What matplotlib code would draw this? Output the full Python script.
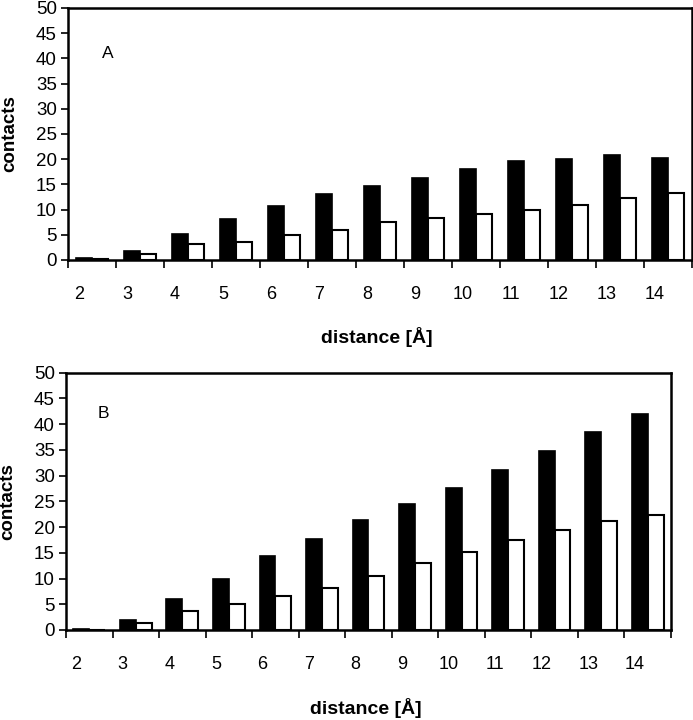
import matplotlib
matplotlib.use("Agg")
import matplotlib.pyplot as plt
import matplotlib.transforms as mtransforms
import numpy as np

plt.rcParams["font.family"] = ["Liberation Sans", "DejaVu Sans"]

# distance bins (Å)
distances = ["2", "3", "4", "5", "6", "7", "8", "9", "10", "11", "12", "13", "14"]

# panel A
a_black = [0.3, 1.8, 5.1, 8.1, 10.8, 13.0, 14.7, 16.2, 18.1, 19.6, 20.1, 20.8, 20.2]
a_white = [0.1, 1.1, 3.1, 3.5, 4.9, 6.0, 7.6, 8.4, 9.2, 10.0, 11.0, 12.3, 13.3]

# panel B
b_black = [0.2, 1.9, 6.0, 10.0, 14.4, 17.7, 21.3, 24.5, 27.6, 31.1, 34.7, 38.5, 42.0]
b_white = [0.05, 1.3, 3.6, 5.05, 6.7, 8.1, 10.5, 13.0, 15.2, 17.4, 19.4, 21.1, 22.3]


def draw_panel(ax, fig, black, white, letter, letter_xy, xlabel_y, ylabel_x):
    x = np.arange(len(distances))
    w = 0.34
    ax.bar(x - w / 2, black, w, color="black", edgecolor="black", linewidth=1.2)
    ax.bar(x + w / 2, white, w, color="white", edgecolor="black", linewidth=1.5)

    ax.set_xlim(-0.5, len(distances) - 0.5)
    ax.set_ylim(0, 50)
    ax.set_yticks(np.arange(0, 51, 5))
    ax.tick_params(axis="y", direction="out", length=5, width=1.2,
                   labelsize=13.5, pad=3)

    # ticks between categories, labels under the category centres
    ax.set_xticks(np.arange(-0.5, len(distances), 1.0))
    ax.set_xticklabels([])
    ax.set_xticks(x, minor=True)
    ax.set_xticklabels(distances, minor=True)
    ax.tick_params(axis="x", which="major", direction="out", length=6, width=1.2)
    ax.tick_params(axis="x", which="minor", length=0, labelsize=13, pad=19)
    shift = mtransforms.ScaledTranslation(-13 / 100, 0, fig.dpi_scale_trans)
    for lab in ax.get_xticklabels(minor=True):
        lab.set_transform(lab.get_transform() + shift)

    for s in ax.spines.values():
        s.set_linewidth(1.8)

    ax.text(letter_xy[0], letter_xy[1], letter, transform=ax.transAxes,
            fontsize=12.5, ha="center", va="center")

    ax.set_ylabel("contacts", fontsize=13.5, fontweight="bold", va="center")
    ax.yaxis.set_label_coords(ylabel_x, 0.5)
    ax.set_xlabel("distance [Å]", fontsize=14, fontweight="bold", va="center")
    ax.xaxis.set_label_coords(0.495, xlabel_y)


fig = plt.figure(figsize=(6.93, 7.2), dpi=100)
fig.patch.set_facecolor("white")

ax_a = fig.add_axes([0.0981, 0.6389, 0.9005, 0.35])
ax_b = fig.add_axes([0.0952, 0.125, 0.8730, 0.3574])

draw_panel(ax_a, fig, a_black, a_white, "A", (0.063, 0.82), -0.306, -0.093)
draw_panel(ax_b, fig, b_black, b_white, "B", (0.061, 0.84), -0.303, -0.096)

fig.savefig("out.png", dpi=100)
